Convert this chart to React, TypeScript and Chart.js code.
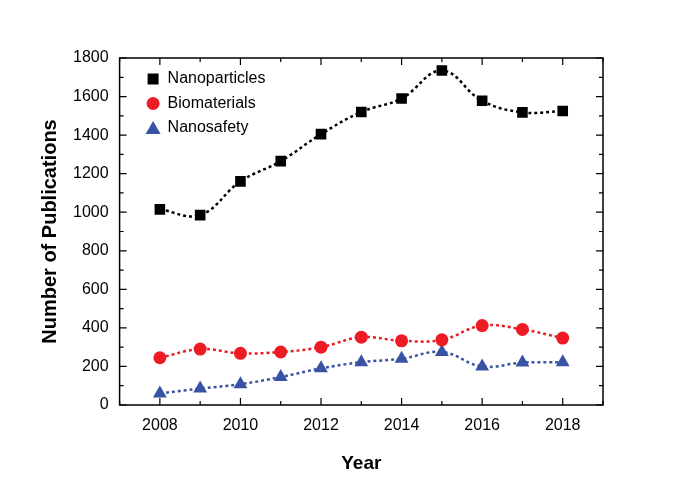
import React, { useEffect, useRef } from "react";
import { Chart, registerables } from "chart.js";
Chart.register(...registerables);

const years = [2008, 2009, 2010, 2011, 2012, 2013, 2014, 2015, 2016, 2017, 2018];
const xTickLabels = [2008, 2010, 2012, 2014, 2016, 2018];
const nanoparticles = [1015, 985, 1160, 1265, 1405, 1520, 1590, 1735, 1578, 1518, 1525];
const biomaterials = [245, 290, 268, 275, 300, 352, 333, 338, 412, 392, 347];
const nanosafety = [60, 85, 108, 145, 190, 222, 240, 275, 200, 220, 222];
const seriesNames = ["Nanoparticles", "Biomaterials", "Nanosafety"];
const colors = ["#000000", "#ed1c24", "#3953a4"];
const shapes = ["rect", "circle", "triangle"];
const radii = [7.5, 6.5, 8];

const framePlugin = {
  id: "frame",
  afterDraw(chart: any) {
    const { ctx, chartArea: a, scales } = chart;
    const x = scales.x, y = scales.y;
    ctx.save();
    ctx.strokeStyle = "#000";
    ctx.lineWidth = 1.5;
    ctx.strokeRect(a.left, a.top, a.right - a.left, a.bottom - a.top);
    ctx.lineWidth = 1.2;
    for (let v = 2007; v <= 2019; v++) {
      const px = x.getPixelForValue(v);
      const len = v % 2 === 0 ? 7 : 4;
      ctx.beginPath();
      ctx.moveTo(px, a.bottom); ctx.lineTo(px, a.bottom - len);
      ctx.moveTo(px, a.top); ctx.lineTo(px, a.top + len);
      ctx.stroke();
    }
    for (let v = 0; v <= 1800; v += 100) {
      const py = y.getPixelForValue(v);
      const len = v % 200 === 0 ? 7 : 4;
      ctx.beginPath();
      ctx.moveTo(a.left, py); ctx.lineTo(a.left + len, py);
      ctx.moveTo(a.right, py); ctx.lineTo(a.right - len, py);
      ctx.stroke();
    }
    ctx.font = "16px 'Liberation Sans', Arial, sans-serif";
    ctx.textBaseline = "middle";
    seriesNames.forEach((n, i) => {
      const ly = a.top + 21 + i * 24.5;
      ctx.fillStyle = colors[i];
      ctx.beginPath();
      if (i === 0) ctx.rect(a.left + 28, ly - 5.5, 11, 11);
      else if (i === 1) ctx.arc(a.left + 33.5, ly, 6.5, 0, Math.PI * 2);
      else { ctx.moveTo(a.left + 33.5, ly - 7); ctx.lineTo(a.left + 41, ly + 6); ctx.lineTo(a.left + 26, ly + 6); ctx.closePath(); }
      ctx.fill();
      ctx.fillStyle = "#000";
      ctx.fillText(n, a.left + 48, ly);
    });
    ctx.restore();
  },
};

export default function App() {
  const ref = useRef<HTMLCanvasElement>(null);
  useEffect(() => {
    document.body.style.margin = "0";
    const data = [nanoparticles, biomaterials, nanosafety];
    const chart = new Chart(ref.current!, {
      type: "line",
      data: {
        datasets: data.map((d, i) => ({
          label: seriesNames[i],
          data: d.map((v, j) => ({ x: years[j], y: v })),
          borderColor: colors[i],
          backgroundColor: colors[i],
          borderDash: [3, 3],
          borderWidth: 2.5,
          tension: 0.4,
          pointStyle: shapes[i] as any,
          pointRadius: radii[i],
          pointBorderWidth: 0,
        })),
      },
      options: {
        animation: false,
        responsive: false,
        layout: { padding: { left: 34, right: 97, top: 58, bottom: 10 } },
        plugins: { legend: { display: false }, tooltip: { enabled: false } },
        scales: {
          x: {
            type: "linear", min: 2007, max: 2019,
            afterBuildTicks: (s: any) => { s.ticks = xTickLabels.map((v) => ({ value: v })); },
            grid: { display: false }, border: { display: false },
            ticks: { color: "#000", font: { size: 16, family: "'Liberation Sans', Arial" }, callback: (v: any) => String(v) },
            title: { display: true, text: "Year", color: "#000", font: { size: 19, weight: "bold", family: "'Liberation Sans', Arial" }, padding: { top: 14 } },
          },
          y: {
            min: 0, max: 1800,
            grid: { display: false }, border: { display: false },
            ticks: { stepSize: 200, color: "#000", font: { size: 16, family: "'Liberation Sans', Arial" }, callback: (v: any) => String(v) },
            title: { display: true, text: "Number of Publications", color: "#000", font: { size: 20, weight: "bold", family: "'Liberation Sans', Arial" }, padding: { bottom: 8 } },
          },
        },
      },
      plugins: [framePlugin],
    });
    return () => chart.destroy();
  }, []);
  return <canvas ref={ref} width={700} height={489} />;
}
